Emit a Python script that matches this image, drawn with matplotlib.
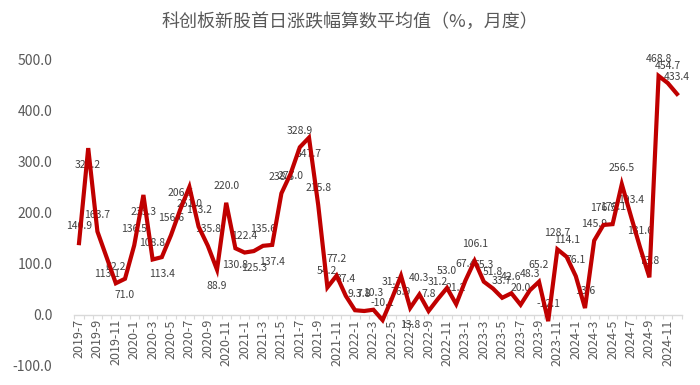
import matplotlib
matplotlib.use("Agg")
import matplotlib.pyplot as plt
from matplotlib.ticker import FixedLocator, FuncFormatter

plt.rcParams['font.family'] = ['Noto Sans CJK SC', 'DejaVu Sans']

months = [
    "2019-7", "2019-8", "2019-9", "2019-10", "2019-11", "2019-12",
    "2020-1", "2020-2", "2020-3", "2020-4", "2020-5", "2020-6",
    "2020-7", "2020-8", "2020-9", "2020-10", "2020-11", "2020-12",
    "2021-1", "2021-2", "2021-3", "2021-4", "2021-5", "2021-6",
    "2021-7", "2021-8", "2021-9", "2021-10", "2021-11", "2021-12",
    "2022-1", "2022-2", "2022-3", "2022-4", "2022-5", "2022-6",
    "2022-7", "2022-8", "2022-9", "2022-10", "2022-11", "2022-12",
    "2023-1", "2023-2", "2023-3", "2023-4", "2023-5", "2023-6",
    "2023-7", "2023-8", "2023-9", "2023-10", "2023-11", "2023-12",
    "2024-1", "2024-2", "2024-3", "2024-4", "2024-5", "2024-6",
    "2024-7", "2024-8", "2024-9", "2024-10", "2024-11", "2024-12",
]

values = [
    140.9, 327.2, 163.7, 113.1, 62.2, 71.0,
    136.5, 235.3, 108.8, 113.4, 156.6, 206.5,
    251.0, 173.2, 135.8, 88.9, 220.0, 130.8,
    122.4, 125.3, 135.6, 137.4, 238.5, 277.0,
    328.9, 347.7, 215.8, 54.2, 77.2, 37.4,
    9.3, 7.8, 10.3, -10.1, 31.7, 76.9,
    13.8, 40.3, 7.8, 31.2, 53.0, 21.2,
    67.4, 106.1, 65.3, 51.8, 33.7, 42.6,
    20.0, 48.3, 65.2, -12.1, 128.7, 114.1,
    76.1, 13.6, 145.9, 176.5, 178.1, 256.5,
    193.4, 131.6, 73.8, 468.8, 454.7, 433.4,
]

# label placement: a = above, b = below, c = centred on point
label_side = [
    "a", "b", "a", "b", "a", "b",
    "a", "b", "a", "b", "a", "a",
    "b", "a", "a", "b", "a", "b",
    "a", "b", "a", "b", "a", "c",
    "a", "b", "a", "a", "a", "a",
    "a", "a", "a", "a", "a", "b",
    "b", "a", "a", "a", "a", "a",
    "a", "a", "a", "a", "a", "a",
    "a", "a", "a", "a", "a", "a",
    "a", "a", "a", "a", "a", "a",
    "a", "a", "a", "a", "a", "a",
]

title = "科创板新股首日涨跌幅算数平均值（%，月度）"
y_ticks = [-100, 0, 100, 200, 300, 400, 500]

RED = "#C00000"
GREY = "#595959"

fig = plt.figure(figsize=(7.0, 3.85), dpi=100)
ax = fig.add_axes([0.1063, 0.0494, 0.8674, 0.7948])

x = list(range(len(values)))
ax.plot(x, values, color=RED, linewidth=3.0, solid_joinstyle="miter",
        zorder=4)

offsets = {"a": 12, "b": -12, "c": -2}
for xi, v, side in zip(x, values, label_side):
    ax.annotate(f"{v:.1f}", (xi, v), xytext=(0, offsets[side]),
                textcoords="offset points", ha="center", va="center",
                fontsize=7.5, color="#404040", zorder=3)

ax.set_xlim(-0.5, len(values) - 0.5)
ax.set_ylim(-100, 500)

for s in ("top", "right", "left"):
    ax.spines[s].set_visible(False)
ax.spines["bottom"].set_position(("data", 0))
ax.spines["bottom"].set_color("#D9D9D9")
ax.spines["bottom"].set_linewidth(1.0)

ax.set_yticks(y_ticks)
ax.yaxis.set_major_formatter(FuncFormatter(lambda v, p: f"{v:.1f}"))
ax.tick_params(axis="y", length=0, pad=16, labelsize=10, labelcolor=GREY)

ax.xaxis.set_major_locator(FixedLocator(x[::2]))
ax.set_xticklabels(months[::2], rotation=90)
ax.xaxis.set_minor_locator(FixedLocator([i - 0.5 for i in range(len(values) + 1)]))
ax.tick_params(axis="x", which="major", length=0, pad=3, labelsize=9,
               labelcolor=GREY)
ax.tick_params(axis="x", which="minor", length=3, width=0.8, color="#D9D9D9",
               direction="out")

fig.text(0.5, 0.943, title, ha="center", va="center", fontsize=13,
         color=GREY)

fig.savefig("out.png", dpi=100)
